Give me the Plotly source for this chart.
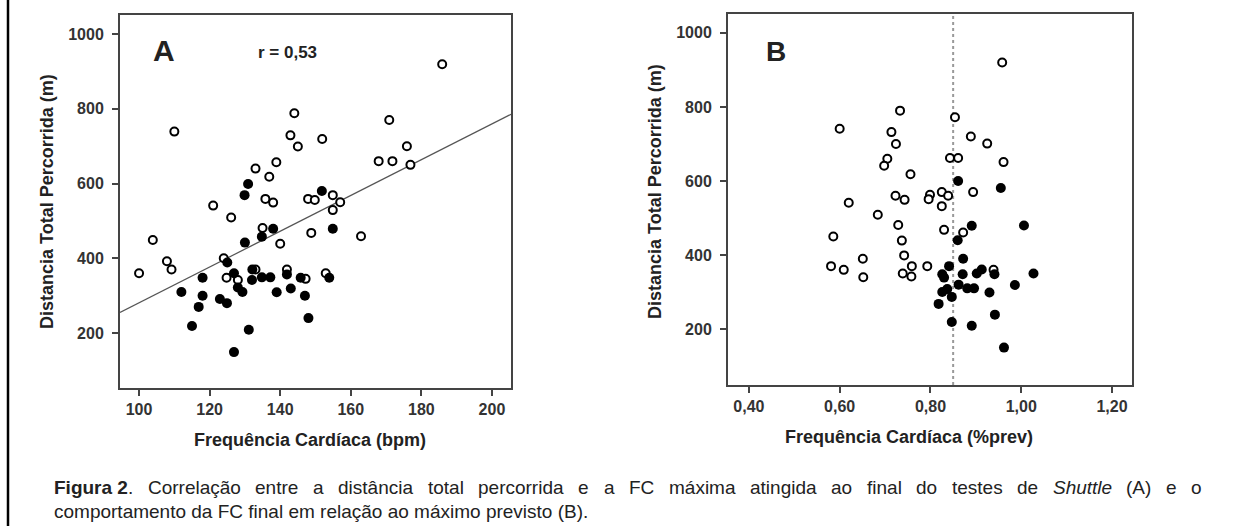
import plotly.graph_objects as go
import re

# ---------------- Data: panel A (HR bpm vs distance) ----------------
a_open_x = [185.9, 110.0, 144.0, 170.9, 142.9, 151.9, 145.0, 175.9, 138.9, 133.0,
            136.9, 167.9, 171.8, 176.9, 121.0, 135.8, 138.0, 147.9, 149.8, 154.9,
            157.0, 154.9, 126.1, 103.9, 135.0, 140.0, 148.8, 162.9, 107.9, 109.2,
            100.0, 124.0, 124.8, 128.0, 133.0, 141.9, 147.2, 152.9]
a_open_y = [919, 739, 788, 770, 729, 719, 699, 700, 657, 640,
            618, 660, 660, 650, 541, 559, 549, 559, 556, 569,
            550, 529, 509, 449, 481, 439, 468, 459, 392, 370,
            360, 400, 348, 342, 370, 370, 345, 360]
a_fill_x = [130.9, 151.8, 129.9, 138.0, 134.8, 130.0, 154.9, 125.0, 118.0, 126.9,
            132.1, 132.0, 134.8, 137.2, 141.9, 145.8, 153.9, 112.0, 118.0, 116.9,
            122.9, 124.9, 128.0, 129.3, 139.0, 143.0, 147.0, 115.0, 131.1, 148.0,
            126.9]
a_fill_y = [599, 580, 569, 479, 458, 442, 479, 389, 348, 360,
            370, 342, 349, 349, 357, 348, 348, 310, 300, 270,
            291, 280, 322, 310, 309, 319, 300, 219, 209, 240,
            149]
reg_intercept = -197.5
reg_slope = 4.785
r_text = "r = 0,53"

# ---------------- Data: panel B (HR %predicted vs distance) ----------------
b_open_x = [0.958, 0.600, 0.733, 0.854, 0.714, 0.724, 0.889, 0.925, 0.705, 0.698,
            0.843, 0.861, 0.961, 0.756, 0.894, 0.825, 0.839, 0.799, 0.796, 0.825,
            0.723, 0.743, 0.620, 0.684, 0.729, 0.830, 0.872, 0.586, 0.737, 0.742,
            0.651, 0.581, 0.609, 0.652, 0.759, 0.739, 0.758, 0.793, 0.939]
b_open_y = [920, 741, 790, 772, 732, 700, 720, 701, 660, 641,
            662, 662, 651, 618, 570, 570, 560, 563, 551, 532,
            560, 549, 541, 509, 481, 468, 461, 450, 439, 399,
            390, 370, 360, 340, 370, 350, 342, 370, 360]
b_fill_x = [0.861, 0.955, 0.891, 1.006, 0.860, 0.872, 0.841, 0.826, 0.871, 0.913,
            0.902, 0.941, 1.027, 0.830, 0.862, 0.881, 0.896, 0.930, 0.986, 0.826,
            0.837, 0.847, 0.818, 0.942, 0.847, 0.891, 0.962]
b_fill_y = [600, 581, 479, 480, 440, 390, 370, 348, 348, 361,
            350, 348, 350, 339, 320, 310, 310, 299, 319, 300,
            308, 287, 268, 239, 219, 209, 150]
ref_line_x = 0.85

# ---------------- Axis ticks ----------------
a_xticks = [100, 120, 140, 160, 180, 200]
b_xticks = [0.40, 0.60, 0.80, 1.00, 1.20]
b_xticklabels = ["0,40", "0,60", "0,80", "1,00", "1,20"]
y_ticks = [200, 400, 600, 800, 1000]
y_ticklabels = ["200", "400", "600", "800", "1000"]

caption_line1 = ["<b>Figura 2</b>.", "Correlação", "entre", "a", "distância", "total",
                 "percorrida", "e", "a", "FC", "máxima", "atingida", "ao", "final", "do",
                 "testes", "de", "<i>Shuttle</i>", "(A)", "e", "o"]
caption_line2 = "comportamento da FC final em relação ao máximo previsto (B)."

FONT = "Liberation Sans, Arial, sans-serif"
INK = "#222222"
FRAME = "#444444"

fig = go.Figure()

open_marker = dict(symbol="circle", size=8, color="white", line=dict(color="black", width=2))
fill_marker = dict(symbol="circle", size=10, color="black", line=dict(color="black", width=0))

# regression line A
xr = [94.6, 205.4]
fig.add_trace(go.Scatter(x=xr, y=[reg_intercept + reg_slope * v for v in xr], mode="lines",
                         line=dict(color="#555555", width=1.2), xaxis="x", yaxis="y",
                         showlegend=False, hoverinfo="skip"))
fig.add_trace(go.Scatter(x=a_open_x, y=a_open_y, mode="markers", marker=open_marker,
                         xaxis="x", yaxis="y", showlegend=False))
fig.add_trace(go.Scatter(x=a_fill_x, y=a_fill_y, mode="markers", marker=fill_marker,
                         xaxis="x", yaxis="y", showlegend=False))

# reference line B
fig.add_trace(go.Scatter(x=[ref_line_x, ref_line_x], y=[49, 1051], mode="lines",
                         line=dict(color="#999999", width=2, dash="dot"), xaxis="x2", yaxis="y2",
                         showlegend=False, hoverinfo="skip"))
fig.add_trace(go.Scatter(x=b_open_x, y=b_open_y, mode="markers", marker=open_marker,
                         xaxis="x2", yaxis="y2", showlegend=False))
fig.add_trace(go.Scatter(x=b_fill_x, y=b_fill_y, mode="markers", marker=fill_marker,
                         xaxis="x2", yaxis="y2", showlegend=False))

W, H = 1260, 526
def px(x): return x / W
def py(y): return 1 - y / H

axis_common = dict(showline=True, linecolor=FRAME, linewidth=2, mirror=True, showgrid=False,
                   zeroline=False, ticks="outside", ticklen=6, tickcolor=FRAME, tickwidth=1.5,
                   tickfont=dict(family=FONT, size=16, color="#333333", weight="bold"))

fig.update_layout(
    width=W, height=H, margin=dict(l=0, r=0, t=0, b=0),
    paper_bgcolor="white", plot_bgcolor="white",
    xaxis=dict(domain=[px(120), px(511)], range=[94.6, 205.4], tickvals=a_xticks,
               anchor="y", **axis_common),
    yaxis=dict(domain=[py(388), py(15)], range=[53, 1051], tickvals=y_ticks,
               ticktext=y_ticklabels, anchor="x", ticklabelstandoff=5, **axis_common),
    xaxis2=dict(domain=[px(728), px(1132)], range=[0.354, 1.244], tickvals=b_xticks,
                ticktext=b_xticklabels, anchor="y2", **axis_common),
    yaxis2=dict(domain=[py(385), py(14)], range=[49, 1051], tickvals=y_ticks,
                ticktext=y_ticklabels, anchor="x2", ticklabelstandoff=5, **axis_common),
)

ann = []
def add_text(text, x, y, size, bold=False, angle=0, xanchor="center", color=INK):
    ann.append(dict(text=text, x=px(x), y=py(y), xref="paper", yref="paper",
                    showarrow=False, textangle=angle, xanchor=xanchor, yanchor="middle",
                    font=dict(family=FONT, size=size, color=color,
                              weight="bold" if bold else "normal")))

add_text("A", 164, 50.5, 30, bold=True)
add_text(r_text, 287.5, 52.5, 17, bold=True)
add_text("B", 775.5, 51, 28, bold=True)
add_text("Frequência Cardíaca (bpm)", 310, 440, 18, bold=True)
add_text("Frequência Cardíaca (%prev)", 909, 437, 18, bold=True)
add_text("Distancia Total Percorrida (m)", 47, 202, 18, bold=True, angle=-90)
add_text("Distancia Total Percorrida (m)", 655, 192, 18, bold=True, angle=-90)

# --- justified first caption line: approximate Arial advance widths (per 1000 em) ---
REG = {c: 556 for c in "abdeghnopquáâãàéêó0123456789"}
REG.update({c: 500 for c in "cksvxyzç"})
REG.update({"f": 278, "t": 278, "i": 222, "í": 278, "j": 222, "l": 222, "m": 833, "r": 333,
            "w": 722, "A": 667, "C": 722, "F": 611, "S": 667, "(": 333, ")": 333, ".": 278,
            " ": 278})
BOLD = dict(REG)
BOLD.update({"i": 278, "g": 611, "u": 611, "r": 389, "F": 611})

def word_w(w, size):
    total = 0
    for part_bold, part in re.findall(r"(<b>)?([^<]+)(?:</b>)?", re.sub(r"</?i>", "", w)):
        tbl = BOLD if part_bold else REG
        total += sum(tbl.get(ch, 556) for ch in part)
    return total * size / 1000.0

cap_size = 19
x0, x1 = 52, 1200
widths = [word_w(w, cap_size) for w in caption_line1]
gap = (x1 - x0 - sum(widths)) / (len(caption_line1) - 1)
cx = x0
for w, wd in zip(caption_line1, widths):
    add_text(w, cx, 487, cap_size, xanchor="left")
    cx += wd + gap
add_text(caption_line2, 52, 511, cap_size, xanchor="left")
fig.update_layout(annotations=ann)

# left border of figure
fig.add_shape(type="line", xref="paper", yref="paper", x0=px(8), x1=px(8), y0=0, y1=1,
              line=dict(color="black", width=2.5))

fig.write_html("out.html")
